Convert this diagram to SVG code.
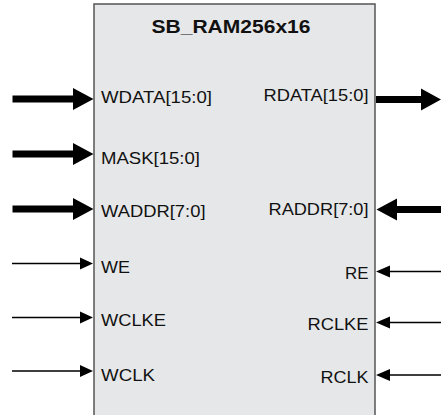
<svg xmlns="http://www.w3.org/2000/svg" width="441" height="415" viewBox="0 0 441 415">
<style>
.lbl{font-family:"Liberation Sans",Arial,sans-serif;font-size:16.5px;fill:#111}
.ttl{font-family:"Liberation Sans",Arial,sans-serif;font-size:19px;font-weight:bold;fill:#111}
.bus{fill:#000}
.sig{fill:#000}
</style>
<defs>
<path id="busIn" d="M-81,-3.6 L-20.5,-3.6 L-20.5,-11 L0,0 L-20.5,11 L-20.5,3.6 L-81,3.6 Z"/>
<path id="sigIn" d="M-81,-0.65 L-13,-0.65 L-13,-6 L0,0 L-13,6 L-13,0.65 L-81,0.65 Z"/>
<path id="busOut" d="M0,-3.6 L45,-3.6 L45,-11 L65,0 L45,11 L45,3.6 L0,3.6 Z"/>
<path id="busInR" d="M0,0 L20.5,-11 L20.5,-3.6 L66,-3.6 L66,3.6 L20.5,3.6 L20.5,11 Z"/>
<path id="sigInR" d="M0,0 L14,-6 L14,-0.65 L66,-0.65 L66,0.65 L14,0.65 L14,6 Z"/>
</defs>
<g id="block">
<rect x="94" y="4" width="281" height="430" fill="#e6e7e8" stroke="#555" stroke-width="1.5"/>
<text class="ttl" x="151.5" y="33" textLength="159" lengthAdjust="spacingAndGlyphs">SB_RAM256x16</text>
</g>
<g id="connectors">
<use href="#busIn" class="bus" x="93.5" y="99"/>
<use href="#busIn" class="bus" x="93.5" y="154"/>
<use href="#busIn" class="bus" x="93.5" y="209"/>
<use href="#sigIn" class="sig" x="93" y="263.5"/>
<use href="#sigIn" class="sig" x="93" y="317.5"/>
<use href="#sigIn" class="sig" x="93" y="371"/>
<use href="#busOut" class="bus" x="376" y="99.5"/>
<use href="#busInR" class="bus" x="376.5" y="209.5"/>
<use href="#sigInR" class="sig" x="376" y="271.5"/>
<use href="#sigInR" class="sig" x="376" y="322.5"/>
<use href="#sigInR" class="sig" x="376" y="375"/>
</g>
<g id="port-WDATA"><text class="lbl" x="101" y="103" textLength="111" lengthAdjust="spacingAndGlyphs">WDATA[15:0]</text></g>
<g id="port-MASK"><text class="lbl" x="101" y="164" textLength="99" lengthAdjust="spacingAndGlyphs">MASK[15:0]</text></g>
<g id="port-WADDR"><text class="lbl" x="101" y="217" textLength="104.5" lengthAdjust="spacingAndGlyphs">WADDR[7:0]</text></g>
<g id="port-WE"><text class="lbl" x="101" y="273" textLength="29" lengthAdjust="spacingAndGlyphs">WE</text></g>
<g id="port-WCLKE"><text class="lbl" x="101" y="326" textLength="65" lengthAdjust="spacingAndGlyphs">WCLKE</text></g>
<g id="port-WCLK"><text class="lbl" x="101" y="381" textLength="54" lengthAdjust="spacingAndGlyphs">WCLK</text></g>
<g id="port-RDATA"><text class="lbl" x="263.5" y="101" textLength="105" lengthAdjust="spacingAndGlyphs">RDATA[15:0]</text></g>
<g id="port-RADDR"><text class="lbl" x="268.5" y="215" textLength="100" lengthAdjust="spacingAndGlyphs">RADDR[7:0]</text></g>
<g id="port-RE"><text class="lbl" x="345" y="279" textLength="23.5" lengthAdjust="spacingAndGlyphs">RE</text></g>
<g id="port-RCLKE"><text class="lbl" x="307.5" y="330" textLength="61" lengthAdjust="spacingAndGlyphs">RCLKE</text></g>
<g id="port-RCLK"><text class="lbl" x="320.5" y="383" textLength="48" lengthAdjust="spacingAndGlyphs">RCLK</text></g>
</svg>
